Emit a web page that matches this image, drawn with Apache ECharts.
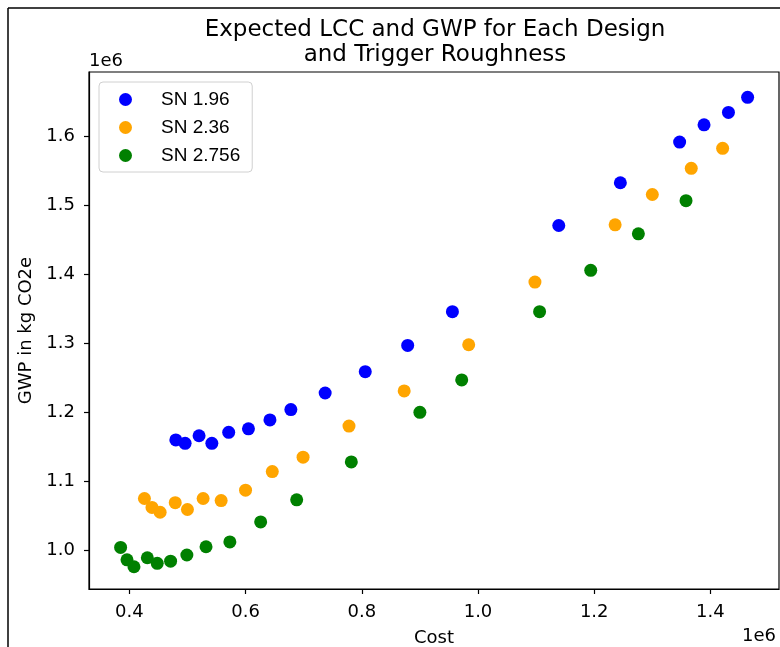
<!DOCTYPE html>
<html>
<head>
<meta charset="utf-8">
<script src="https://cdn.jsdelivr.net/npm/echarts@6/dist/echarts.min.js"></script>
<style>html,body{margin:0;padding:0;background:#fff}#c{width:780px;height:647px}</style>
</head>
<body>
<div id="c"></div>
<script>
// Values in units of 1e6
const seriesNames = ['SN 1.96', 'SN 2.36', 'SN 2.756'];
const seriesColors = ['#0000ff', '#ffa500', '#008000'];
const costSN196 = [0.480, 0.496, 0.520, 0.542, 0.571, 0.605, 0.642, 0.678, 0.737, 0.806, 0.879, 0.956, 1.139, 1.245, 1.347, 1.389, 1.431, 1.464];
const gwpSN196  = [1.160, 1.155, 1.166, 1.155, 1.171, 1.176, 1.189, 1.204, 1.228, 1.259, 1.297, 1.346, 1.471, 1.533, 1.592, 1.617, 1.635, 1.657];
const costSN236 = [0.426, 0.439, 0.453, 0.479, 0.500, 0.527, 0.558, 0.600, 0.646, 0.699, 0.778, 0.873, 0.984, 1.098, 1.236, 1.300, 1.367, 1.421];
const gwpSN236  = [1.075, 1.062, 1.055, 1.069, 1.059, 1.075, 1.072, 1.087, 1.114, 1.135, 1.180, 1.231, 1.298, 1.389, 1.472, 1.516, 1.554, 1.583];
const costSN2756 = [0.385, 0.396, 0.408, 0.431, 0.448, 0.471, 0.499, 0.532, 0.573, 0.626, 0.688, 0.782, 0.900, 0.972, 1.106, 1.194, 1.276, 1.358];
const gwpSN2756  = [1.004, 0.986, 0.976, 0.989, 0.981, 0.984, 0.993, 1.005, 1.012, 1.041, 1.073, 1.128, 1.200, 1.247, 1.346, 1.406, 1.459, 1.507];
const xTicks = [0.4, 0.6, 0.8, 1.0, 1.2, 1.4];
const yTicks = [1.0, 1.1, 1.2, 1.3, 1.4, 1.5, 1.6];

const xs = [costSN196, costSN236, costSN2756];
const ys = [gwpSN196, gwpSN236, gwpSN2756];

const chart = echarts.init(document.getElementById('c'), null, {renderer: 'canvas'});
const tickFont = {fontFamily: 'DejaVu Sans', fontSize: 18, color: '#000'};
chart.setOption({
  animation: false,
  backgroundColor: '#fff',
  title: {
    text: 'Expected LCC and GWP for Each Design\nand Trigger Roughness',
    left: 430, top: 13, textAlign: 'center',
    textStyle: {fontFamily: 'DejaVu Sans', fontSize: 23, fontWeight: 'normal', color: '#000', lineHeight: 25}
  },
  legend: {
    orient: 'vertical', left: 99, top: 82,
    padding: [8, 12, 7, 20], itemGap: 9,
    itemWidth: 13, itemHeight: 13, icon: 'circle',
    borderColor: '#d0d0d0', borderWidth: 1, borderRadius: 4,
    backgroundColor: '#fff',
    textStyle: {fontFamily: 'Liberation Sans', fontSize: 19, color: '#000', padding: [0, 0, 0, 24]},
    data: seriesNames
  },
  grid: {left: 89, top: 72, right: 1, bottom: 58, containLabel: false, outerBoundsMode: 'none',
         show: true, borderColor: '#000', borderWidth: 1.2},
  xAxis: {
    type: 'value', min: 0.3306, max: 1.518,
    name: 'Cost', nameLocation: 'middle', nameGap: 40,
    nameTextStyle: {fontFamily: 'DejaVu Sans', fontSize: 18, color: '#000'},
    splitLine: {show: false},
    axisLine: {show: true, onZero: false, lineStyle: {color: '#000', width: 1.2}},
    axisTick: {show: true, length: 5, lineStyle: {color: '#000', width: 1.2}, customValues: xTicks},
    axisLabel: Object.assign({margin: 14, customValues: xTicks, formatter: v => v.toFixed(1)}, tickFont)
  },
  yAxis: {
    type: 'value', min: 0.9437, max: 1.6937,
    name: 'GWP in kg CO2e', nameLocation: 'middle', nameGap: 52, nameRotate: 90,
    nameTextStyle: {fontFamily: 'DejaVu Sans', fontSize: 18, color: '#000'},
    splitLine: {show: false},
    axisLine: {show: true, onZero: false, lineStyle: {color: '#000', width: 1.2}},
    axisTick: {show: true, length: 5, lineStyle: {color: '#000', width: 1.2}, customValues: yTicks},
    axisLabel: Object.assign({margin: 14, customValues: yTicks, formatter: v => v.toFixed(1)}, tickFont)
  },
  graphic: [
    {type: 'line', shape: {x1: 8, y1: 8, x2: 780, y2: 8}, style: {stroke: '#000', lineWidth: 1.5}, silent: true},
    {type: 'line', shape: {x1: 8, y1: 8, x2: 8, y2: 647}, style: {stroke: '#000', lineWidth: 1.5}, silent: true},
    {type: 'text', left: 89, top: 52, style: {text: '1e6', font: '18px "DejaVu Sans"', fill: '#000'}},
    {type: 'text', right: 4, top: 627, style: {text: '1e6', font: '18px "DejaVu Sans"', fill: '#000'}}
  ],
  series: seriesNames.map((n, i) => ({
    name: n, type: 'scatter', symbolSize: 13,
    itemStyle: {color: seriesColors[i], opacity: 1},
    data: xs[i].map((x, j) => [x, ys[i][j]])
  }))
});
</script>
</body>
</html>
